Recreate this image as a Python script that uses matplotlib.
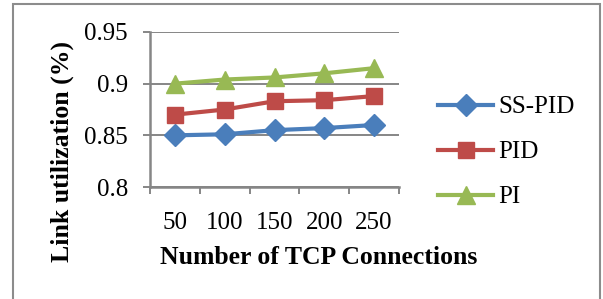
import matplotlib.pyplot as plt
from matplotlib.patches import Rectangle

plt.rcParams['font.family'] = ['Liberation Serif', 'DejaVu Serif']

connections = ['50', '100', '150', '200', '250']
ss_pid = [0.850, 0.851, 0.855, 0.857, 0.860]
pid = [0.870, 0.875, 0.883, 0.884, 0.888]
pi = [0.900, 0.904, 0.906, 0.910, 0.915]

fig = plt.figure(figsize=(6.03, 2.99), dpi=100)
# chart frame (bottom edge is cut off in the original)
fig.patches.append(Rectangle((13 / 603, -0.1), 587 / 603, 1.1 - 4 / 299, transform=fig.transFigure,
                             fill=False, edgecolor='#8c8c8c', linewidth=1.5))
ax = fig.add_axes([150 / 603, 1 - 187 / 299, 249 / 603, 155 / 299])

x = range(len(connections))
ax.plot(x, ss_pid, color='#4A7EBB', lw=3, marker='D', ms=11, label='SS-PID')
ax.plot(x, pid, color='#BE4B48', lw=3, marker='s', ms=12, label='PID')
ax.plot(x, pi, color='#98B954', lw=3, marker='^', ms=13, label='PI')

ax.set_xlim(-0.5, 4.5)
ax.set_ylim(0.8, 0.95)
ax.set_yticks([0.8, 0.85, 0.9, 0.95])
ax.set_yticklabels(['0.8', '0.85', '0.9', '0.95'], fontsize=18)
ax.set_xticks(list(x))
ax.set_xticklabels(connections, fontsize=18)
ax.set_xticks([i - 0.5 for i in range(6)], minor=True)
ax.tick_params(axis='x', which='major', length=0, pad=18)
ax.tick_params(axis='x', which='minor', length=5, color='#868686', width=1.4)
ax.tick_params(axis='y', length=5, color='#868686', width=1.4, direction='out', pad=11)
ax.grid(axis='y', color='#868686', lw=1.4)
for s in ['top', 'right']:
    ax.spines[s].set_visible(False)
for s in ['left', 'bottom']:
    ax.spines[s].set_color('#868686')
    ax.spines[s].set_linewidth(1.8)

# axis titles placed like the original (centred on the whole plot area)
fig.text(319 / 603, 1 - 257 / 299, 'Number of TCP Connections', fontsize=18.5,
         fontweight='bold', ha='center', va='center')
fig.text(62 / 603, 1 - 151 / 299, 'Link utilization (%)', fontsize=18.5,
         fontweight='bold', ha='center', va='center', rotation=90)

leg = ax.legend(loc='center left', bbox_to_anchor=(438 / 603, 1 - 152 / 299),
                bbox_transform=fig.transFigure, frameon=False, fontsize=18,
                borderpad=0, borderaxespad=0, handlelength=2.2, handletextpad=0.2,
                labelspacing=0.9)

fig.savefig('out.png', dpi=100)
